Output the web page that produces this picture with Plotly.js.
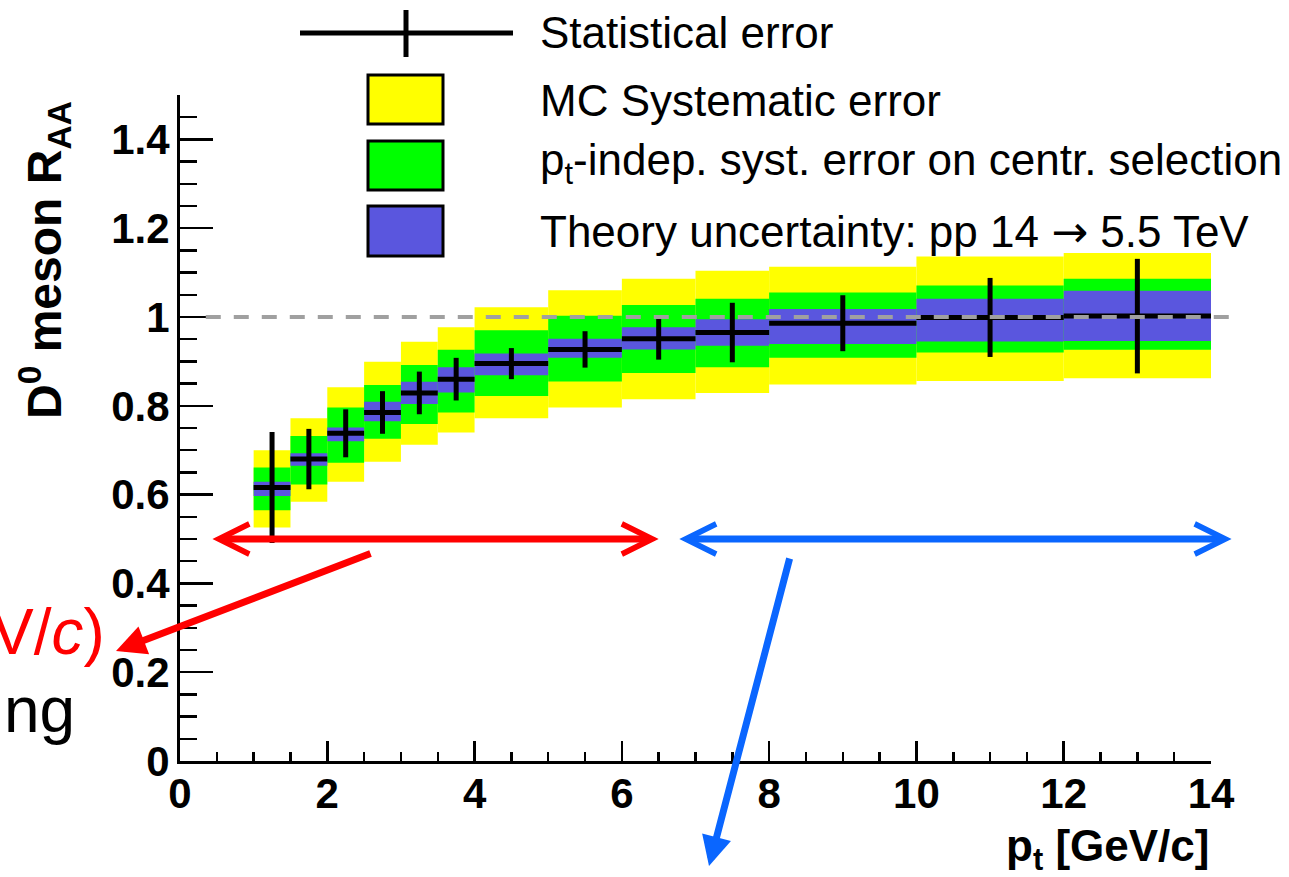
<!DOCTYPE html>
<html>
<head>
<meta charset="utf-8">
<script src="https://cdn.plot.ly/plotly-3.0.1.min.js"></script>
<style>
  html, body { margin: 0; padding: 0; background: #ffffff; }
  #chart { width: 1289px; height: 877px; }
</style>
</head>
<body>
<div id="chart"></div>
<script>
// ---- data ----
const ptCenter      = [1.25, 1.75, 2.25, 2.75, 3.25, 3.75, 4.5, 5.5, 6.5, 7.5, 9, 11, 13];
const ptHalfWidth   = [0.25, 0.25, 0.25, 0.25, 0.25, 0.25, 0.5, 0.5, 0.5, 0.5, 1, 1, 1];
const raa           = [0.616, 0.680, 0.738, 0.785, 0.829, 0.860, 0.895, 0.927, 0.951, 0.965, 0.986, 0.999, 1.002];
const statErr       = [0.125, 0.068, 0.054, 0.048, 0.048, 0.048, 0.035, 0.041, 0.047, 0.067, 0.063, 0.089, 0.129];
const mcSystLow     = [0.526, 0.584, 0.629, 0.674, 0.712, 0.740, 0.772, 0.796, 0.815, 0.829, 0.848, 0.856, 0.862];
const mcSystHigh    = [0.700, 0.772, 0.842, 0.899, 0.944, 0.977, 1.022, 1.060, 1.086, 1.104, 1.113, 1.136, 1.144];
const centrSystLow  = [0.565, 0.623, 0.672, 0.726, 0.759, 0.785, 0.822, 0.855, 0.874, 0.887, 0.908, 0.920, 0.926];
const centrSystHigh = [0.661, 0.732, 0.796, 0.847, 0.892, 0.926, 0.970, 1.003, 1.027, 1.041, 1.055, 1.071, 1.086];
const theoryLow     = [0.597, 0.665, 0.720, 0.765, 0.804, 0.830, 0.869, 0.908, 0.927, 0.935, 0.939, 0.945, 0.946];
const theoryHigh    = [0.629, 0.693, 0.751, 0.809, 0.854, 0.887, 0.918, 0.951, 0.977, 0.995, 1.018, 1.041, 1.059];
const legendLabels  = [
  "Statistical error",
  "MC Systematic error",
  "p<sub>t</sub>-indep. syst. error on centr. selection",
  "Theory uncertainty: pp 14 <span style=\"font-family:DejaVu Sans\">\u2192</span> 5.5 TeV"
];
const xTitle = "<b>p<sub>t</sub> [GeV/c]</b>";
const yTitle = "<b>D<sup>0</sup> meson R<sub>AA</sub></b>";

// ---- styles ----
const FONT = "Liberation Sans, Arial, Helvetica, sans-serif";
const YELLOW = "#ffff00", GREEN = "#00ff00", BLUE = "#5a56de";
const RED = "#ff0000", ARROWBLUE = "#0a66ff";
const XRANGE = [0, 14], YRANGE = [0, 1.5];

function band(lo, hi, color, name) {
  return {
    type: "bar", name: name, x: ptCenter,
    base: lo, y: hi.map((h, i) => h - lo[i]),
    width: ptHalfWidth.map(w => 2 * w),
    marker: { color: color, line: { width: 0 } },
    hoverinfo: "skip", showlegend: false
  };
}

const traces = [
  band(mcSystLow, mcSystHigh, YELLOW, "MC Systematic error"),
  band(centrSystLow, centrSystHigh, GREEN, "pt-indep. syst. error on centr. selection"),
  band(theoryLow, theoryHigh, BLUE, "Theory uncertainty"),
  {
    type: "scatter", mode: "markers", name: "Statistical error",
    x: ptCenter, y: raa,
    marker: { size: 1, color: "black" },
    error_y: { type: "data", array: statErr, color: "black", thickness: 5, width: 0 },
    error_x: { type: "data", array: ptHalfWidth, color: "black", thickness: 5, width: 0 },
    hoverinfo: "skip", showlegend: false
  }
];

// paper coordinates helpers for legend / decorations (pixel -> paper)
const M = { l: 180, r: 78, t: 95, b: 116 };
const PW = 1289 - M.l - M.r, PH = 877 - M.t - M.b;
const px = X => (X - M.l) / PW;
const py = Y => (877 - M.b - Y) / PH;

const shapes = [
  // reference line at R_AA = 1
  { type: "line", xref: "paper", yref: "y", x0: 0.35 / XRANGE[1], x1: 14.36 / XRANGE[1], y0: 1, y1: 1,
    line: { color: "#a0a0a0", width: 4, dash: "15px,13px" }, layer: "above" },
  // legend symbols
  { type: "line", xref: "paper", yref: "paper", x0: px(300), x1: px(513), y0: py(33), y1: py(33),
    line: { color: "black", width: 5 } },
  { type: "line", xref: "paper", yref: "paper", x0: px(406), x1: px(406), y0: py(10), y1: py(57),
    line: { color: "black", width: 5 } },
  { type: "rect", xref: "paper", yref: "paper", x0: px(368), x1: px(443), y0: py(124), y1: py(75),
    fillcolor: YELLOW, line: { color: "black", width: 3 } },
  { type: "rect", xref: "paper", yref: "paper", x0: px(368), x1: px(443), y0: py(190), y1: py(141),
    fillcolor: GREEN, line: { color: "black", width: 3 } },
  { type: "rect", xref: "paper", yref: "paper", x0: px(368), x1: px(443), y0: py(256), y1: py(206),
    fillcolor: BLUE, line: { color: "black", width: 3 } }
];

const legendY = [33, 100, 163, 232];
const annotations = legendLabels.map((t, i) => ({
  xref: "paper", yref: "paper", x: px(538), y: py(legendY[i]),
  xanchor: "left", yanchor: "middle", text: t, showarrow: false,
  font: { family: FONT, size: 44, color: "black" }
}));

annotations.push(
  { xref: "paper", yref: "paper", x: px(44), y: py(99), xanchor: "center", yanchor: "top",
    textangle: -90, text: yTitle, showarrow: false, font: { family: FONT, size: 48, color: "black" } },
  { xref: "paper", yref: "paper", x: 1.0, y: py(849), xanchor: "right", yanchor: "middle",
    text: xTitle, showarrow: false, font: { family: FONT, size: 44, color: "black" } },
  // cropped slide text on the left
  { xref: "paper", yref: "paper", x: px(107), y: py(632), xanchor: "right", yanchor: "middle",
    text: "V/<i>c</i>)", showarrow: false, font: { family: FONT, size: 64, color: RED } },
  { xref: "paper", yref: "paper", x: px(77), y: py(710), xanchor: "right", yanchor: "middle",
    text: "ng", showarrow: false, font: { family: FONT, size: 64, color: "black" } },
  // double arrows marking pt ranges
  { xref: "x", yref: "y", axref: "x", ayref: "y", x: 6.5, y: 0.5, ax: 0.42, ay: 0.5, text: "",
    showarrow: true, arrowside: "end+start", arrowhead: 5, startarrowhead: 5,
    arrowsize: 0.85, startarrowsize: 0.85, arrowwidth: 7, arrowcolor: RED },
  { xref: "x", yref: "y", axref: "x", ayref: "y", x: 6.78, y: 0.5, ax: 14.3, ay: 0.5, text: "",
    showarrow: true, arrowside: "end+start", arrowhead: 5, startarrowhead: 5,
    arrowsize: 0.85, startarrowsize: 0.85, arrowwidth: 7, arrowcolor: ARROWBLUE },
  // pointer arrows
  { xref: "paper", yref: "paper", x: px(116), y: py(651), ax: 372 - 116, ay: 553 - 651, text: "",
    showarrow: true, arrowhead: 2, arrowsize: 0.85, arrowwidth: 7, arrowcolor: RED },
  { xref: "paper", yref: "paper", x: px(709), y: py(866), ax: 790 - 709, ay: 557 - 866, text: "",
    showarrow: true, arrowhead: 2, arrowsize: 0.85, arrowwidth: 7, arrowcolor: ARROWBLUE }
);

const tickFont = { family: FONT, size: 42, color: "black", weight: "bold" };

const layout = {
  width: 1289, height: 877,
  margin: M,
  paper_bgcolor: "white", plot_bgcolor: "white",
  font: { family: FONT, color: "black" },
  barmode: "overlay",
  showlegend: false,
  xaxis: {
    range: XRANGE, showline: true, linecolor: "black", linewidth: 3,
    ticks: "inside", ticklen: 20, tickwidth: 2.5, tickcolor: "black",
    tick0: 0, dtick: 2, showgrid: false, zeroline: false,
    tickfont: tickFont, ticklabelstandoff: -6,
    minor: { dtick: 0.5, ticks: "inside", ticklen: 9, tickwidth: 2.5, tickcolor: "black", showgrid: false },
    fixedrange: true
  },
  yaxis: {
    range: YRANGE, showline: true, linecolor: "black", linewidth: 3,
    ticks: "inside", ticklen: 33, tickwidth: 2.5, tickcolor: "black",
    tick0: 0, dtick: 0.2, showgrid: false, zeroline: false,
    tickfont: tickFont, ticklabelstandoff: -1,
    minor: { dtick: 0.05, ticks: "inside", ticklen: 17, tickwidth: 2.5, tickcolor: "black", showgrid: false },
    fixedrange: true
  },
  shapes: shapes,
  annotations: annotations
};

Plotly.newPlot("chart", traces, layout, { displayModeBar: false, staticPlot: true });
</script>
</body>
</html>
